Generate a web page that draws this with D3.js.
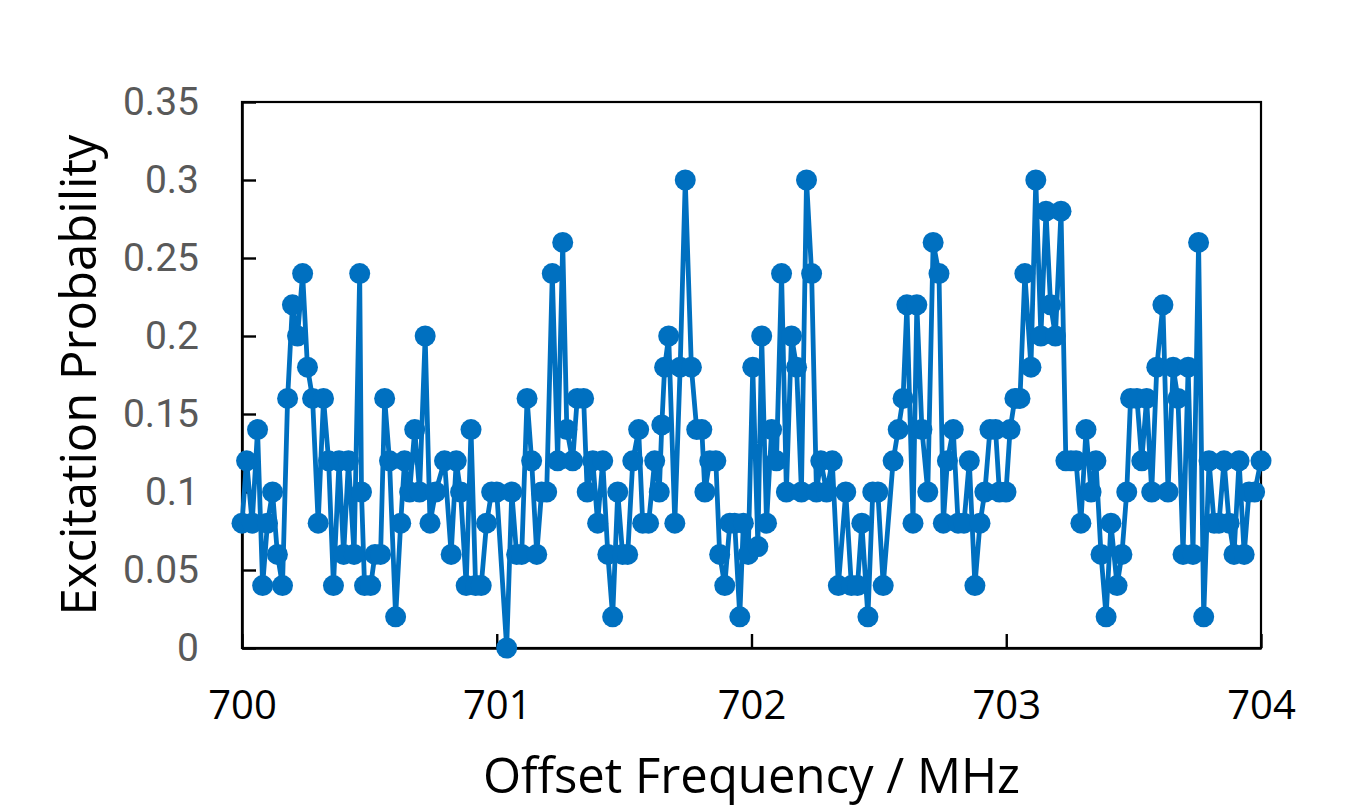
<!DOCTYPE html>
<html>
<head>
<meta charset="utf-8">
<script src="https://cdn.jsdelivr.net/npm/d3@7"></script>
<style>
  body { margin: 0; background: #ffffff; }
  svg { display: block; }
</style>
</head>
<body>
<div id="chart"></div>
<script>
var freqs = [
  700.000, 700.018, 700.040, 700.061, 700.081, 700.100, 700.120, 700.139, 700.159, 700.179,
  700.198, 700.218, 700.238, 700.257, 700.277, 700.299, 700.320, 700.340, 700.359, 700.381,
  700.399, 700.418, 700.440, 700.462, 700.469, 700.481, 700.505, 700.522, 700.544, 700.560,
  700.579, 700.603, 700.623, 700.638, 700.658, 700.678, 700.697, 700.719, 700.738, 700.760,
  700.795, 700.821, 700.841, 700.858, 700.880, 700.899, 700.917, 700.939, 700.960, 700.980,
  701.000, 701.039, 701.059, 701.078, 701.098, 701.119, 701.137, 701.157, 701.176, 701.196,
  701.218, 701.239, 701.259, 701.275, 701.298, 701.316, 701.341, 701.355, 701.377, 701.396,
  701.416, 701.436, 701.455, 701.475, 701.494, 701.514, 701.534, 701.557, 701.573, 701.596,
  701.620, 701.638, 701.648, 701.659, 701.675, 701.699, 701.720, 701.740, 701.764, 701.785,
  701.805, 701.817, 701.836, 701.860, 701.875, 701.895, 701.915, 701.934, 701.954, 701.968,
  701.987, 702.005, 702.025, 702.040, 702.059, 702.079, 702.098, 702.118, 702.137, 702.157,
  702.177, 702.196, 702.216, 702.236, 702.255, 702.272, 702.295, 702.317, 702.341, 702.370,
  702.392, 702.416, 702.433, 702.457, 702.476, 702.496, 702.517, 702.556, 702.576, 702.595,
  702.610, 702.634, 702.649, 702.669, 702.692, 702.713, 702.736, 702.753, 702.769, 702.792,
  702.811, 702.834, 702.855, 702.877, 702.897, 702.916, 702.936, 702.958, 702.973, 702.999,
  703.015, 703.034, 703.054, 703.073, 703.097, 703.116, 703.136, 703.156, 703.174, 703.193,
  703.215, 703.234, 703.254, 703.274, 703.293, 703.313, 703.333, 703.352, 703.372, 703.392,
  703.411, 703.435, 703.454, 703.473, 703.488, 703.513, 703.532, 703.551, 703.571, 703.591,
  703.615, 703.635, 703.655, 703.674, 703.694, 703.714, 703.733, 703.755, 703.775, 703.796,
  703.816, 703.835, 703.855, 703.875, 703.894, 703.914, 703.934, 703.953, 703.975, 704.000
];

// Excitation probability at each frequency
var probs = [
  0.08, 0.12, 0.08, 0.14, 0.04, 0.08, 0.10, 0.06, 0.04, 0.16,
  0.22, 0.20, 0.24, 0.18, 0.16, 0.08, 0.16, 0.12, 0.04, 0.12,
  0.06, 0.12, 0.06, 0.24, 0.10, 0.04, 0.04, 0.06, 0.06, 0.16,
  0.12, 0.02, 0.08, 0.12, 0.10, 0.14, 0.10, 0.20, 0.08, 0.10,
  0.12, 0.06, 0.12, 0.10, 0.04, 0.14, 0.04, 0.04, 0.08, 0.10,
  0.10, 0.00, 0.10, 0.06, 0.06, 0.16, 0.12, 0.06, 0.10, 0.10,
  0.24, 0.12, 0.26, 0.14, 0.12, 0.16, 0.16, 0.10, 0.12, 0.08,
  0.12, 0.06, 0.02, 0.10, 0.06, 0.06, 0.12, 0.14, 0.08, 0.08,
  0.12, 0.10, 0.143, 0.18, 0.20, 0.08, 0.18, 0.30, 0.18, 0.14,
  0.14, 0.10, 0.12, 0.12, 0.06, 0.04, 0.08, 0.08, 0.02, 0.08,
  0.06, 0.18, 0.065, 0.20, 0.08, 0.14, 0.12, 0.24, 0.10, 0.20,
  0.18, 0.10, 0.30, 0.24, 0.10, 0.12, 0.10, 0.12, 0.04, 0.10,
  0.04, 0.04, 0.08, 0.02, 0.10, 0.10, 0.04, 0.12, 0.14, 0.16,
  0.22, 0.08, 0.22, 0.14, 0.10, 0.26, 0.24, 0.08, 0.12, 0.14,
  0.08, 0.08, 0.12, 0.04, 0.08, 0.10, 0.14, 0.14, 0.10, 0.10,
  0.14, 0.16, 0.16, 0.24, 0.18, 0.30, 0.20, 0.28, 0.22, 0.20,
  0.28, 0.12, 0.12, 0.12, 0.08, 0.14, 0.10, 0.12, 0.06, 0.02,
  0.08, 0.04, 0.06, 0.10, 0.16, 0.16, 0.12, 0.16, 0.10, 0.18,
  0.22, 0.10, 0.18, 0.16, 0.06, 0.18, 0.06, 0.26, 0.02, 0.12,
  0.08, 0.08, 0.12, 0.08, 0.06, 0.12, 0.06, 0.10, 0.10, 0.12
];

// Tick labels
var xTicks = [700, 701, 702, 703, 704];
var yTicks = [0, 0.05, 0.1, 0.15, 0.2, 0.25, 0.3, 0.35];

// SVG area
var svgWidth = 1355;
var svgHeight = 810;

var chartMargin = {
  top: 102,
  right: 94,
  bottom: 162,
  left: 242
};

var chartWidth = svgWidth - chartMargin.left - chartMargin.right;
var chartHeight = svgHeight - chartMargin.top - chartMargin.bottom;

var svg = d3.select("#chart")
  .append("svg")
  .attr("width", svgWidth)
  .attr("height", svgHeight);

var chartGroup = svg.append("g")
  .attr("transform", `translate(${chartMargin.left}, ${chartMargin.top})`);

// Scales
var xScale = d3.scaleLinear()
  .domain([700, 704])
  .range([0, chartWidth]);

var yScale = d3.scaleLinear()
  .domain([0, 0.35])
  .range([chartHeight, 0]);

var data = freqs.map((f, i) => ({ freq: f, prob: probs[i] }));

// Frame around the plot area
chartGroup.append("rect")
  .attr("x", 0)
  .attr("y", 0)
  .attr("width", chartWidth)
  .attr("height", chartHeight)
  .attr("fill", "none")
  .attr("stroke", "#000")
  .attr("stroke-width", 2.2);

// Axes with inward ticks
var bottomAxis = d3.axisBottom(xScale)
  .tickValues(xTicks)
  .tickSizeInner(-14)
  .tickSizeOuter(0)
  .tickFormat(d3.format("d"));

var leftAxis = d3.axisLeft(yScale)
  .tickValues(yTicks)
  .tickSizeInner(-14)
  .tickSizeOuter(0)
  .tickPadding(43)
  .tickFormat(d => d === 0 ? "0" : String(+d.toFixed(2)));

var xAxis = chartGroup.append("g")
  .attr("transform", `translate(0, ${chartHeight})`)
  .call(bottomAxis);

xAxis.select(".domain").attr("stroke", "#000").attr("stroke-width", 2.6);
xAxis.selectAll(".tick line").attr("stroke", "#000").attr("stroke-width", 2.4);
xAxis.selectAll(".tick text")
  .attr("y", 57)
  .attr("dy", "0.35em")
  .attr("fill", "#000")
  .style("font-family", "'Open Sans', sans-serif")
  .style("font-size", "40px");

var yAxis = chartGroup.append("g")
  .call(leftAxis);

yAxis.select(".domain").attr("stroke", "#000").attr("stroke-width", 2.6);
yAxis.selectAll(".tick line").attr("stroke", "#000").attr("stroke-width", 2.4);
yAxis.selectAll(".tick text")
  .attr("fill", "#595959")
  .style("font-family", "Roboto, sans-serif")
  .style("font-size", "39px");

// Series line
var lineGen = d3.line()
  .x(d => xScale(d.freq))
  .y(d => yScale(d.prob));

chartGroup.append("path")
  .datum(data)
  .attr("d", lineGen)
  .attr("fill", "none")
  .attr("stroke", "#0070C0")
  .attr("stroke-width", 4.8)
  .attr("stroke-linejoin", "round");

// Markers
chartGroup.selectAll("circle")
  .data(data)
  .enter()
  .append("circle")
  .attr("cx", d => xScale(d.freq))
  .attr("cy", d => yScale(d.prob))
  .attr("r", 10.5)
  .attr("fill", "#0070C0");

// Axis titles
svg.append("text")
  .attr("x", chartMargin.left + chartWidth / 2)
  .attr("y", 793)
  .attr("text-anchor", "middle")
  .attr("fill", "#000")
  .style("font-family", "'Open Sans', sans-serif")
  .style("font-size", "49px")
  .text("Offset Frequency / MHz");

svg.append("text")
  .attr("transform", "rotate(-90)")
  .attr("x", -(chartMargin.top + chartHeight / 2))
  .attr("y", 96)
  .attr("text-anchor", "middle")
  .attr("fill", "#000")
  .style("font-family", "'Open Sans', sans-serif")
  .style("font-size", "49px")
  .text("Excitation Probability");
</script>
</body>
</html>
